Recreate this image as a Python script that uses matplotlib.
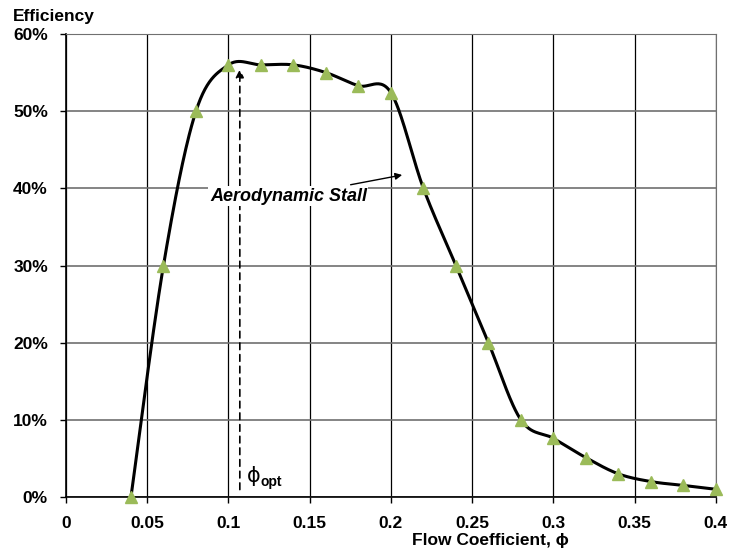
import numpy as np
import matplotlib.pyplot as plt

plt.rcParams['font.family'] = ['Liberation Sans', 'DejaVu Sans']
plt.rcParams['font.weight'] = 'bold'

# flow coefficient vs efficiency (%)
phi = [0.04, 0.06, 0.08, 0.10, 0.12, 0.14, 0.16, 0.18, 0.20, 0.22,
       0.24, 0.26, 0.28, 0.30, 0.32, 0.34, 0.36, 0.38, 0.40]
eff = [0.0, 30.0, 50.0, 56.0, 56.0, 56.0, 55.0, 53.3, 52.4, 40.0,
       30.0, 20.0, 10.0, 7.6, 5.1, 3.0, 2.0, 1.5, 1.0]

x_ticks = [0, 0.05, 0.1, 0.15, 0.2, 0.25, 0.3, 0.35, 0.4]
x_labels = ['0', '0.05', '0.1', '0.15', '0.2', '0.25', '0.3', '0.35', '0.4']
y_ticks = [0, 10, 20, 30, 40, 50, 60]
y_labels = ['0%', '10%', '20%', '30%', '40%', '50%', '60%']

phi_opt = 0.107
eff_opt = 55.8


def smooth(xs, ys, n=30):
    # excel-like smoothed line: bezier segments with catmull-rom control points
    p = np.column_stack([xs, ys])
    p = np.vstack([p[0], p, p[-1]])
    out = []
    t = np.linspace(0, 1, n)[:, None]
    for i in range(1, len(p) - 2):
        p0, p3 = p[i], p[i + 1]
        c1 = p0 + (p[i + 1] - p[i - 1]) / 6
        c2 = p3 - (p[i + 2] - p[i]) / 6
        seg = ((1 - t) ** 3) * p0 + 3 * ((1 - t) ** 2) * t * c1 + 3 * (1 - t) * t ** 2 * c2 + t ** 3 * p3
        out.append(seg)
    out = np.vstack(out)
    return out[:, 0], out[:, 1]


fig = plt.figure(figsize=(7.29, 5.55), dpi=100)
ax = fig.add_axes([0.0905, 0.1045, 0.8915, 0.8342])

sx, sy = smooth(phi, eff)
ax.plot(sx, sy, color='black', lw=2.2, zorder=3)
ax.plot(phi, eff, linestyle='none', marker='^', markersize=8,
        color='#9BBB59', zorder=4, clip_on=False)

ax.set_xlim(0, 0.4)
ax.set_ylim(0, 60)
ax.set_xticks(x_ticks)
ax.set_xticklabels(x_labels)
ax.set_yticks(y_ticks)
ax.set_yticklabels(y_labels)
ax.tick_params(labelsize=12.5, length=4, width=1)
ax.tick_params(axis='y', pad=9)
ax.tick_params(axis='x', pad=10)
ax.grid(axis='x', color='black', lw=0.9)
ax.grid(axis='y', color='#707070', lw=1.2)
ax.set_axisbelow(True)
for s in ['top', 'right']:
    ax.spines[s].set_color('#707070')
for s in ['left', 'bottom']:
    ax.spines[s].set_color('black')
    ax.spines[s].set_linewidth(1.2)

# optimum marker
ax.annotate('', xy=(phi_opt, eff_opt), xytext=(phi_opt, 0.6),
            arrowprops=dict(arrowstyle='-|>', ls=(0, (4, 3)), lw=1.2,
                            color='black', mutation_scale=12))
ax.text(phi_opt + 0.0045, 1.4, '\u03d5', fontsize=15, fontweight='normal',
        family='DejaVu Sans', va='bottom', ha='left')
ax.text(phi_opt + 0.013, 1.1, 'opt', fontsize=10, va='bottom', ha='left')

ax.annotate('', xy=(0.2086, 41.8), xytext=(0.1735, 40.4),
            arrowprops=dict(arrowstyle='-|>', lw=1, color='black', mutation_scale=10))
ax.text(0.0886, 39.0, 'Aerodynamic Stall', fontsize=13, style='italic',
        va='center', ha='left', bbox=dict(facecolor='white', edgecolor='none', pad=1))

fig.text(0.018, 0.971, 'Efficiency', fontsize=12.5, va='center', ha='left')
fig.text(0.673, 0.027, 'Flow Coefficient, \u03d5', fontsize=12.5, va='center', ha='center')

fig.savefig('out.png', dpi=100)
